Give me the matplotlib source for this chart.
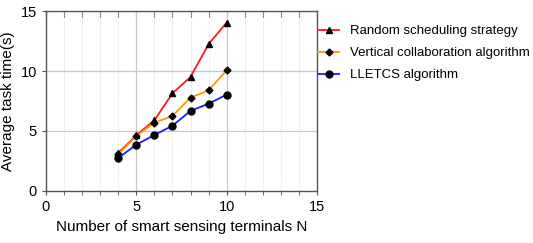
import numpy as np
import matplotlib.pyplot as plt
from matplotlib.ticker import MultipleLocator

plt.rcParams['font.family'] = ['Liberation Sans', 'DejaVu Sans']

terminals = [4, 5, 6, 7, 8, 9, 10]
random_sched = [3.17, 4.64, 5.9, 8.14, 9.5, 12.25, 14.03]
vertical_collab = [3.06, 4.58, 5.69, 6.25, 7.78, 8.39, 10.06]
lletcs = [2.75, 3.86, 4.67, 5.44, 6.67, 7.28, 8.03]

fig = plt.figure(figsize=(5.33, 2.43), dpi=100)
ax = fig.add_axes([46 / 533, 1 - 191 / 243, (317 - 46) / 533, 180 / 243])

ax.plot(terminals, random_sched, color='#ff1a1a', lw=1.3, marker='^', ms=5,
        mfc='black', mec='black', label='Random scheduling strategy')
ax.plot(terminals, vertical_collab, color='#ff9900', lw=1.3, marker='D', ms=3.5,
        mfc='black', mec='black', label='Vertical collaboration algorithm')
ax.plot(terminals, lletcs, color='#1a1aff', lw=1.3, marker='o', ms=5,
        mfc='black', mec='black', label='LLETCS algorithm')

ax.set_xlim(0, 15)
ax.set_ylim(0, 15)
ax.xaxis.set_major_locator(MultipleLocator(5))
ax.xaxis.set_minor_locator(MultipleLocator(1))
ax.yaxis.set_major_locator(MultipleLocator(5))

ax.grid(which='major', color='#c8c8c8', lw=0.9)
ax.grid(which='minor', axis='x', color='#d8d8d8', lw=0.7, ls=':')
ax.set_axisbelow(True)

for s in ax.spines.values():
    s.set_color('#555555')
    s.set_linewidth(1.0)

ax.tick_params(axis='x', which='both', direction='out', length=3,
               color='#555555', labelsize=10.5)
ax.tick_params(axis='y', which='major', direction='out', length=3,
               color='#555555', labelsize=10.5)

# ticks along the top edge point into the plot
top = ax.secondary_xaxis('top')
top.xaxis.set_major_locator(MultipleLocator(1))
top.tick_params(direction='in', length=4, color='#555555', labeltop=False)
top.spines['top'].set_visible(False)

ax.set_xlabel('Number of smart sensing terminals N', fontsize=11)
ax.set_ylabel('Average task time(s)', fontsize=11)

ax.legend(loc='upper left', bbox_to_anchor=(1.0, 0.93), frameon=False,
          fontsize=9.5, handlelength=1.6, handletextpad=0.8, labelspacing=0.75,
          borderaxespad=0.0, borderpad=0.1)

fig.savefig('out.png', dpi=100)
